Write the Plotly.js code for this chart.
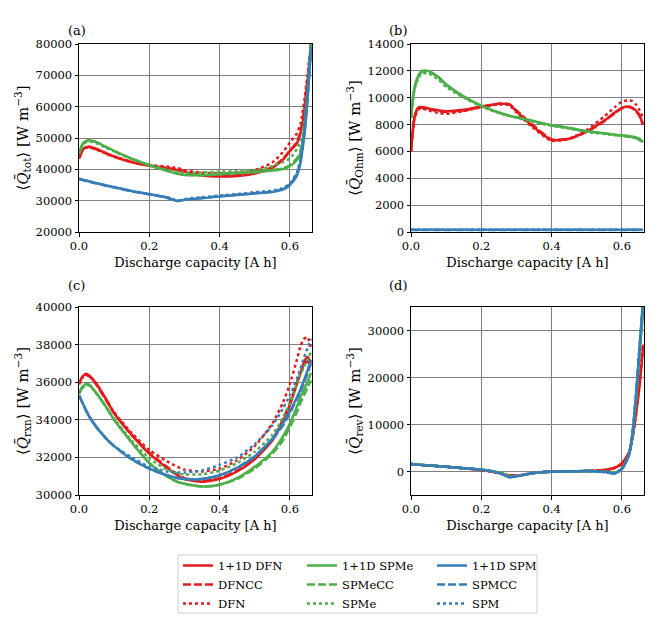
<!DOCTYPE html>
<html>
<head>
<meta charset="utf-8">
<script src="https://cdn.plot.ly/plotly-3.0.1.min.js"></script>
<style>
  html, body { margin: 0; padding: 0; background: #fff; }
  #chart { width: 664px; height: 627px; }
</style>
</head>
<body>
<div id="chart"></div>
<script>
// Discharge capacity [A h], shared by every curve
const capacity = [0, 0.01, 0.02, 0.03, 0.05, 0.08, 0.10, 0.15, 0.20, 0.25, 0.28, 0.30,
                  0.35, 0.40, 0.45, 0.50, 0.55, 0.58, 0.60, 0.62, 0.63, 0.64, 0.65, 0.66];

// (a) total heat
const totDFN1D  = [43500, 46200, 47100, 47200, 46500, 45000, 44100, 42300, 41100, 40300, 39700, 39200, 38000, 37700, 37900, 38700, 40500, 43000, 45800, 48300, 51400, 57800, 67300, 80000];
const totDFNCC  = [43400, 46100, 47000, 47100, 46400, 44900, 44000, 42300, 41200, 40500, 39900, 39400, 38200, 37900, 38100, 38900, 40700, 43300, 46000, 48700, 52000, 58500, 68500, 80000];
const totDFN    = [43600, 46000, 46900, 47000, 46300, 44900, 44100, 42400, 41400, 40900, 40400, 39800, 38900, 38700, 38900, 39700, 42200, 45500, 48500, 51500, 54500, 61000, 70000, 80000];
const totSPMe1D = [45000, 48000, 49000, 49300, 48700, 47000, 45900, 43400, 41300, 39500, 38600, 38200, 38100, 38400, 38800, 39100, 39600, 40100, 41000, 43000, 45000, 50000, 62000, 80000];
const totSPMeCC = [44900, 47900, 48900, 49200, 48600, 46900, 45800, 43400, 41300, 39600, 38700, 38300, 38200, 38500, 38900, 39300, 39800, 40300, 41300, 43500, 46000, 51500, 64000, 80000];
const totSPMe   = [45000, 47800, 48700, 48900, 48300, 46700, 45700, 43300, 41400, 39900, 39200, 38900, 39000, 39300, 39400, 39800, 41000, 42300, 43500, 46500, 49000, 54000, 65000, 80000];
const totSPM1D  = [37000, 36700, 36400, 36100, 35600, 34800, 34300, 33100, 32100, 31000, 29900, 30300, 30800, 31300, 31800, 32300, 32800, 33500, 35000, 38000, 42000, 50000, 62000, 78000];
const totSPMCC  = [36900, 36600, 36300, 36000, 35500, 34700, 34200, 33000, 32000, 30900, 29900, 30300, 30900, 31400, 31900, 32400, 32900, 33700, 35200, 38500, 42500, 51000, 63000, 78500];
const totSPM    = [37000, 36700, 36400, 36100, 35600, 34800, 34300, 33100, 32100, 31100, 30000, 30500, 31100, 31600, 32100, 32700, 33200, 34000, 35500, 39000, 43500, 52000, 64000, 79000];

// (b) Ohmic heat
const ohmDFN1D  = [6000, 8600, 9250, 9300, 9200, 9050, 9000, 9100, 9350, 9550, 9500, 9000, 7800, 6850, 6950, 7500, 8300, 8900, 9250, 9350, 9250, 9050, 8700, 8000];
const ohmDFNCC  = [6000, 8500, 9200, 9250, 9150, 9000, 8950, 9050, 9300, 9550, 9500, 9050, 7900, 6900, 6950, 7450, 8250, 8850, 9200, 9300, 9200, 9000, 8650, 8000];
const ohmDFN    = [6000, 8400, 9100, 9200, 9050, 8850, 8800, 9000, 9300, 9500, 9450, 8900, 7700, 6800, 6950, 7600, 8600, 9300, 9700, 9800, 9750, 9500, 9100, 8500];
const ohmSPMe1D = [8500, 10800, 11600, 12000, 12000, 11500, 11000, 10100, 9400, 8900, 8650, 8550, 8250, 7950, 7750, 7500, 7350, 7250, 7200, 7150, 7100, 7050, 6950, 6700];
const ohmSPMeCC = [8500, 10700, 11500, 11900, 11950, 11450, 10950, 10050, 9400, 8900, 8650, 8550, 8250, 7950, 7750, 7500, 7350, 7250, 7150, 7100, 7050, 7000, 6850, 6600];
const ohmSPMe   = [8500, 10600, 11400, 11800, 11800, 11300, 10800, 10000, 9350, 8850, 8650, 8500, 8200, 7900, 7700, 7450, 7300, 7200, 7150, 7100, 7050, 7000, 6900, 6700];
const ohmSPM1D  = [170, 170, 170, 170, 170, 170, 170, 170, 170, 170, 170, 170, 170, 170, 170, 170, 170, 170, 170, 170, 170, 170, 170, 170];
const ohmSPMCC  = [150, 150, 150, 150, 150, 150, 150, 150, 150, 150, 150, 150, 150, 150, 150, 150, 150, 150, 150, 150, 150, 150, 150, 150];
const ohmSPM    = [160, 160, 160, 160, 160, 160, 160, 160, 160, 160, 160, 160, 160, 160, 160, 160, 160, 160, 160, 160, 160, 160, 160, 160];

// (c) reaction heat
const rxnDFN1D  = [35900, 36300, 36450, 36350, 35900, 35000, 34350, 33200, 32200, 31450, 31050, 30850, 30700, 30850, 31250, 31900, 32900, 33900, 34800, 35900, 36500, 37050, 37350, 37000];
const rxnDFNCC  = [35900, 36300, 36400, 36300, 35850, 34950, 34350, 33200, 32250, 31500, 31100, 30900, 30750, 30900, 31300, 31950, 32950, 34000, 34900, 36000, 36500, 36900, 37100, 36900];
const rxnDFN    = [35900, 36250, 36400, 36300, 35900, 35000, 34400, 33300, 32400, 31800, 31500, 31350, 31250, 31400, 31850, 32600, 33800, 34900, 35900, 37200, 37900, 38300, 38400, 37800];
const rxnSPMe1D = [35400, 35750, 35900, 35850, 35400, 34600, 34000, 32800, 31700, 31000, 30700, 30600, 30450, 30550, 30900, 31500, 32300, 33100, 33800, 34700, 35200, 35600, 36000, 36500];
const rxnSPMeCC = [35400, 35750, 35900, 35850, 35400, 34600, 34000, 32800, 31700, 31000, 30700, 30600, 30450, 30550, 30850, 31400, 32200, 32900, 33600, 34400, 34900, 35300, 35700, 36100];
const rxnSPMe   = [35400, 35700, 35850, 35800, 35400, 34600, 34050, 32900, 31950, 31350, 31150, 31100, 31100, 31300, 31700, 32300, 33200, 34100, 34900, 35900, 36400, 36800, 37200, 37600];
const rxnSPM1D  = [35300, 34900, 34500, 34150, 33600, 32950, 32600, 31900, 31400, 31050, 30900, 30850, 30850, 31050, 31450, 32050, 33000, 33800, 34450, 35200, 35600, 36100, 36600, 37200];
const rxnSPMCC  = [35300, 34900, 34500, 34150, 33600, 32950, 32600, 31900, 31400, 31050, 30900, 30850, 30850, 31050, 31450, 32050, 32950, 33700, 34350, 35100, 35500, 35950, 36450, 37000];
const rxnSPM    = [35300, 34900, 34500, 34150, 33600, 32950, 32600, 32000, 31500, 31250, 31200, 31200, 31300, 31600, 32000, 32700, 33700, 34600, 35300, 36200, 36700, 37300, 37800, 38300];

// (d) reversible heat
const revDFN1D  = [1600, 1500, 1450, 1400, 1300, 1100, 1000, 700, 300, -300, -800, -900, -300, 0, 0, 100, 300, 800, 1700, 4000, 7000, 12000, 18000, 26000];
const revDFNCC  = [1600, 1500, 1450, 1400, 1300, 1100, 1000, 700, 300, -300, -800, -900, -300, 0, 0, 100, 300, 800, 1700, 4000, 7200, 12500, 19000, 27000];
const revDFN    = [1600, 1500, 1450, 1400, 1300, 1100, 1000, 700, 300, -300, -800, -900, -300, 0, 0, 100, 300, 800, 1600, 3900, 7000, 12000, 18500, 26500];
const revSPMe1D = [1600, 1500, 1450, 1400, 1300, 1100, 1000, 700, 400, -200, -1000, -1000, -300, -50, 0, 100, 0, -200, 600, 3500, 7500, 15000, 25000, 34000];
const revSPMeCC = [1600, 1500, 1450, 1400, 1300, 1100, 1000, 700, 400, -200, -1000, -1000, -300, -50, 0, 100, 0, -200, 600, 3500, 7500, 15000, 25000, 34000];
const revSPMe   = [1600, 1500, 1450, 1400, 1300, 1100, 1000, 700, 400, -200, -1000, -1000, -300, -50, 0, 100, 0, -200, 600, 3500, 7500, 15000, 25000, 34000];
const revSPM1D  = [1600, 1500, 1450, 1400, 1300, 1100, 1000, 700, 400, -300, -1200, -1000, -300, -50, 0, 100, -100, -400, 500, 3500, 8000, 16000, 26000, 36000];
const revSPMCC  = [1600, 1500, 1450, 1400, 1300, 1100, 1000, 700, 400, -300, -1200, -1000, -300, -50, 0, 100, -100, -400, 500, 3500, 8000, 16000, 26000, 36000];
const revSPM    = [1600, 1500, 1450, 1400, 1300, 1100, 1000, 700, 400, -300, -1200, -1000, -300, -50, 0, 100, -100, -400, 500, 3500, 8000, 16000, 26000, 36000];

const modelNames = ['1+1D DFN', 'DFNCC', 'DFN', '1+1D SPMe', 'SPMeCC', 'SPMe', '1+1D SPM', 'SPMCC', 'SPM'];

const RED = '#e41a1c', GREEN = '#4daf4a', BLUE = '#377eb8';
const COLORS = [RED, RED, RED, GREEN, GREEN, GREEN, BLUE, BLUE, BLUE];
const DASHES = ['solid', '8px,3px', 'dot', 'solid', '8px,3px', 'dot', 'solid', '8px,3px', 'dot'];
const LEGENDS = ['legend', 'legend', 'legend', 'legend2', 'legend2', 'legend2', 'legend3', 'legend3', 'legend3'];
const FONT = 'DejaVu Serif, serif';

const panels = [
    { xa: 'x',  ya: 'y',  series: [totDFN1D, totDFNCC, totDFN, totSPMe1D, totSPMeCC, totSPMe, totSPM1D, totSPMCC, totSPM] },
    { xa: 'x2', ya: 'y2', series: [ohmDFN1D, ohmDFNCC, ohmDFN, ohmSPMe1D, ohmSPMeCC, ohmSPMe, ohmSPM1D, ohmSPMCC, ohmSPM] },
    { xa: 'x3', ya: 'y3', series: [rxnDFN1D, rxnDFNCC, rxnDFN, rxnSPMe1D, rxnSPMeCC, rxnSPMe, rxnSPM1D, rxnSPMCC, rxnSPM] },
    { xa: 'x4', ya: 'y4', series: [revDFN1D, revDFNCC, revDFN, revSPMe1D, revSPMeCC, revSPMe, revSPM1D, revSPMCC, revSPM] },
];

const data = [];
panels.forEach((p, pi) => {
    p.series.forEach((y, i) => {
        data.push({
            type: 'scatter',
            mode: 'lines',
            name: modelNames[i],
            x: capacity,
            y: y,
            xaxis: p.xa,
            yaxis: p.ya,
            legend: LEGENDS[i],
            showlegend: pi === 0,
            line: { color: COLORS[i], width: 2.5, dash: DASHES[i], shape: 'spline', smoothing: 0.6 },
        });
    });
});

function xAxis(domain, anchor) {
    return {
        domain: domain, anchor: anchor, range: [0, 0.663],
        tick0: 0, dtick: 0.2, tickformat: '.1f',
        showline: true, mirror: true, linecolor: '#000', linewidth: 1,
        ticks: 'outside', ticklen: 3.5, tickcolor: '#000',
        showgrid: true, gridcolor: '#808080', gridwidth: 1, zeroline: false,
        tickfont: { family: FONT, size: 11.5, color: '#000' },
        title: { text: 'Discharge capacity [A h]', standoff: 5, font: { family: FONT, size: 13, color: '#000' } },
    };
}

function yAxis(domain, anchor, range, dtick, sub) {
    return {
        domain: domain, anchor: anchor, range: range,
        tick0: 0, dtick: dtick, tickformat: 'd',
        showline: true, mirror: true, linecolor: '#000', linewidth: 1,
        ticks: 'outside', ticklen: 3.5, tickcolor: '#000',
        showgrid: true, gridcolor: '#808080', gridwidth: 1, zeroline: false,
        tickfont: { family: FONT, size: 11.5, color: '#000' },
        title: {
            text: '\u27E8<i>Q\u0304</i><sub>' + sub + '</sub>\u27E9 [W m<sup>\u22123</sup>]',
            standoff: 3, font: { family: FONT, size: 15, color: '#000' },
        },
    };
}

const XL = [79 / 664, 312 / 664], XR = [411 / 664, 644 / 664];
const YT = [1 - 232 / 627, 1 - 44 / 627], YB = [1 - 495 / 627, 1 - 307 / 627];

function panelLabel(text, x, y) {
    return { text: text, xref: 'paper', yref: 'paper', x: x / 664, y: 1 - y / 627,
             showarrow: false, font: { family: FONT, size: 13, color: '#000' } };
}

function legendAt(x) {
    return { x: x / 664, y: 1 - 551 / 627, xanchor: 'left', yanchor: 'top',
             bgcolor: 'rgba(0,0,0,0)', borderwidth: 0,
             font: { family: FONT, size: 11.5, color: '#000' } };
}

const layout = {
    width: 664, height: 627,
    margin: { l: 0, r: 0, t: 0, b: 0 },
    paper_bgcolor: '#fff', plot_bgcolor: '#fff',
    font: { family: FONT, color: '#000' },
    xaxis: xAxis(XL, 'y'), yaxis: yAxis(YT, 'x', [20000, 80000], 10000, 'tot'),
    xaxis2: xAxis(XR, 'y2'), yaxis2: yAxis(YT, 'x2', [0, 14000], 2000, 'Ohm'),
    xaxis3: xAxis(XL, 'y3'), yaxis3: yAxis(YB, 'x3', [30000, 40000], 2000, 'rxn'),
    xaxis4: xAxis(XR, 'y4'), yaxis4: yAxis(YB, 'x4', [-5000, 35000], 10000, 'rev'),
    legend: legendAt(178), legend2: legendAt(302), legend3: legendAt(432),
    annotations: [
        panelLabel('(a)', 66, 21), panelLabel('(b)', 398, 21),
        panelLabel('(c)', 66, 285), panelLabel('(d)', 398, 285),
    ],
    // frame drawn around the three legend columns
    shapes: [{
        type: 'rect', xref: 'paper', yref: 'paper', layer: 'below',
        x0: 178 / 664, x1: 537 / 664, y0: 1 - 613 / 627, y1: 1 - 555 / 627,
        line: { color: '#d0d0d0', width: 1 }, fillcolor: 'rgba(0,0,0,0)',
    }],
};

Plotly.newPlot('chart', data, layout, { displayModeBar: false, staticPlot: true });
</script>
</body>
</html>
